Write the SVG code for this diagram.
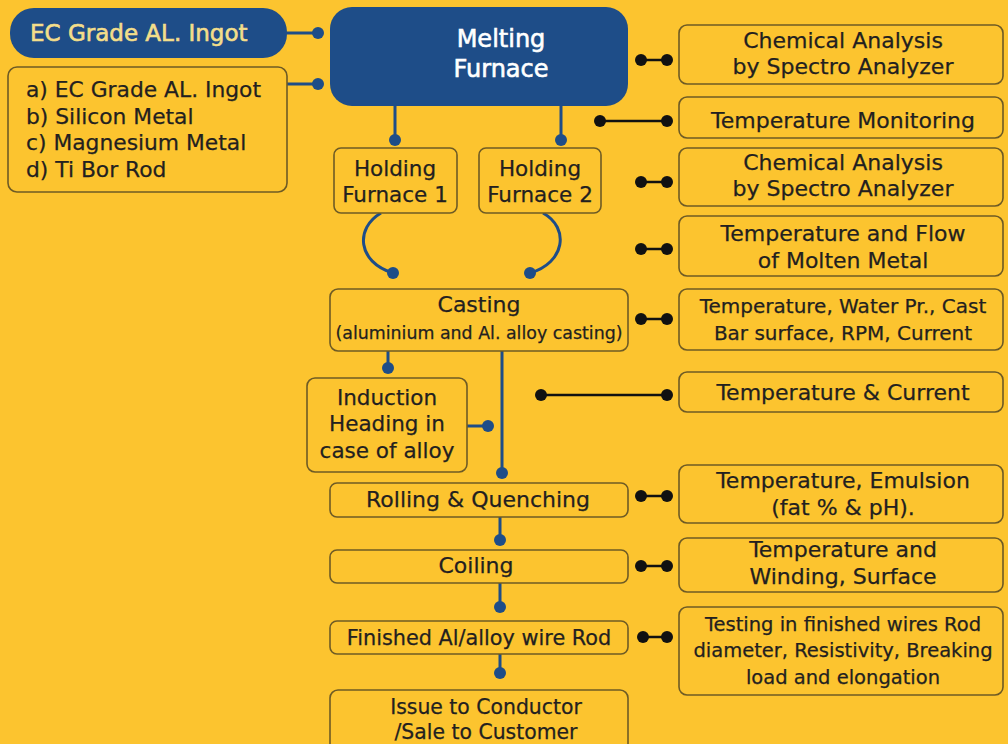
<svg xmlns="http://www.w3.org/2000/svg" width="1008" height="744" viewBox="0 0 1008 744">
<defs>
<style>
.bg{fill:#FCC42F}
.box{fill:#FCC42F;stroke:#6E5B25;stroke-width:1.6}
.blue{fill:#1E4D88}
.t{font-family:"DejaVu Sans",Lato,sans-serif;font-size:22px;fill:#231F20;stroke:#231F20;stroke-width:0.25;text-anchor:middle}
.tl{font-family:"DejaVu Sans",Lato,sans-serif;font-size:21.8px;fill:#231F20;stroke:#231F20;stroke-width:0.25}
.tw{font-family:"DejaVu Sans",Lato,sans-serif;font-size:24px;fill:#FFFFFF;stroke:#FFFFFF;stroke-width:0.6;text-anchor:middle}
.ty{font-family:"DejaVu Sans",Lato,sans-serif;font-size:23px;fill:#F3DE8A;stroke:#F3DE8A;stroke-width:0.6}
.bl{stroke:#1E4D88;stroke-width:3;fill:none}
.bd{fill:#1E4D88}
.kl{stroke:#111;stroke-width:2.5;fill:none}
.kd{fill:#111}
</style>
</defs>
<rect class="bg" x="0" y="0" width="1008" height="744"/>

<g id="connectors">
<line class="bl" x1="287" y1="33" x2="318" y2="33"/><circle class="bd" cx="318" cy="33" r="6"/>
<line class="bl" x1="287" y1="84" x2="318" y2="84"/><circle class="bd" cx="318" cy="84" r="6"/>
<line class="bl" x1="395" y1="106" x2="395" y2="140"/><circle class="bd" cx="395" cy="140" r="6"/>
<line class="bl" x1="561" y1="106" x2="561" y2="140"/><circle class="bd" cx="561" cy="140" r="6"/>
<path class="bl" d="M381 213 C355 228 357 262 393 273"/><circle class="bd" cx="393" cy="273" r="6"/>
<path class="bl" d="M543 213 C570 228 565 263 530 273"/><circle class="bd" cx="530" cy="273" r="6"/>
<line class="bl" x1="388" y1="351" x2="388" y2="368"/><circle class="bd" cx="388" cy="368" r="6"/>
<line class="bl" x1="467" y1="426" x2="488" y2="426"/><circle class="bd" cx="488" cy="426" r="6"/>
<line class="bl" x1="502" y1="351" x2="502" y2="473"/><circle class="bd" cx="502" cy="473" r="6"/>
<line class="bl" x1="500" y1="517" x2="500" y2="540"/><circle class="bd" cx="500" cy="540" r="6"/>
<line class="bl" x1="500" y1="583" x2="500" y2="607"/><circle class="bd" cx="500" cy="607" r="6"/>
<line class="bl" x1="500" y1="654" x2="500" y2="673"/><circle class="bd" cx="500" cy="673" r="6"/>

<line class="kl" x1="641" y1="60" x2="667" y2="60"/><circle class="kd" cx="641" cy="60" r="6"/><circle class="kd" cx="667" cy="60" r="6"/>
<line class="kl" x1="600" y1="121" x2="667" y2="121"/><circle class="kd" cx="600" cy="121" r="6"/><circle class="kd" cx="667" cy="121" r="6"/>
<line class="kl" x1="641" y1="182" x2="667" y2="182"/><circle class="kd" cx="641" cy="182" r="6"/><circle class="kd" cx="667" cy="182" r="6"/>
<line class="kl" x1="641" y1="249" x2="667" y2="249"/><circle class="kd" cx="641" cy="249" r="6"/><circle class="kd" cx="667" cy="249" r="6"/>
<line class="kl" x1="641" y1="319" x2="667" y2="319"/><circle class="kd" cx="641" cy="319" r="6"/><circle class="kd" cx="667" cy="319" r="6"/>
<line class="kl" x1="541" y1="395" x2="667" y2="395"/><circle class="kd" cx="541" cy="395" r="6"/><circle class="kd" cx="667" cy="395" r="6"/>
<line class="kl" x1="641" y1="496" x2="667" y2="496"/><circle class="kd" cx="641" cy="496" r="6"/><circle class="kd" cx="667" cy="496" r="6"/>
<line class="kl" x1="641" y1="566" x2="667" y2="566"/><circle class="kd" cx="641" cy="566" r="6"/><circle class="kd" cx="667" cy="566" r="6"/>
<line class="kl" x1="643" y1="637" x2="667" y2="637"/><circle class="kd" cx="643" cy="637" r="6"/><circle class="kd" cx="667" cy="637" r="6"/>
</g>

<g id="ingot">
<rect class="blue" x="10" y="8" width="277" height="50" rx="24"/>
<text class="ty" x="30" y="41">EC Grade AL. Ingot</text>
</g>
<g id="materials">
<rect class="box" x="8" y="67" width="279" height="125" rx="9"/>
<text class="tl" x="26" y="97">a) EC Grade AL. Ingot</text>
<text class="tl" x="26" y="124">b) Silicon Metal</text>
<text class="tl" x="26" y="150">c) Magnesium Metal</text>
<text class="tl" x="26" y="177">d) Ti Bor Rod</text>
</g>
<g id="melting">
<rect class="blue" x="330" y="7" width="298" height="99" rx="22"/>
<text class="tw" x="501" y="47">Melting</text>
<text class="tw" x="501" y="77">Furnace</text>
</g>
<g id="hf1">
<rect class="box" x="334" y="148" width="123" height="65" rx="7"/>
<text class="t" x="395" y="176" style="font-size:21.5px">Holding</text>
<text class="t" x="395" y="202" style="font-size:21.5px">Furnace 1</text>
</g>
<g id="hf2">
<rect class="box" x="479" y="148" width="122" height="65" rx="7"/>
<text class="t" x="540" y="176" style="font-size:21.5px">Holding</text>
<text class="t" x="540" y="202" style="font-size:21.5px">Furnace 2</text>
</g>
<g id="casting">
<rect class="box" x="330" y="289" width="298" height="62" rx="8"/>
<text class="t" x="479" y="312">Casting</text>
<text class="t" x="479" y="339" style="font-size:17.4px">(aluminium and Al. alloy casting)</text>
</g>
<g id="induction">
<rect class="box" x="307" y="378" width="160" height="94" rx="8"/>
<text class="t" x="387" y="405" style="font-size:21.5px">Induction</text>
<text class="t" x="387" y="431" style="font-size:21.5px">Heading in</text>
<text class="t" x="387" y="458" style="font-size:21.5px">case of alloy</text>
</g>
<g id="rolling">
<rect class="box" x="330" y="483" width="298" height="34" rx="7"/>
<text class="t" x="478" y="507">Rolling &amp; Quenching</text>
</g>
<g id="coiling">
<rect class="box" x="330" y="550" width="298" height="33" rx="7"/>
<text class="t" x="476" y="573">Coiling</text>
</g>
<g id="finished">
<rect class="box" x="330" y="621" width="298" height="33" rx="7"/>
<text class="t" x="479" y="645" style="font-size:20.8px">Finished Al/alloy wire Rod</text>
</g>
<g id="issue">
<rect class="box" x="330" y="690" width="298" height="70" rx="8"/>
<text class="t" x="486" y="714" style="font-size:20.4px">Issue to Conductor</text>
<text class="t" x="486" y="739" style="font-size:20.4px">/Sale to Customer</text>
</g>

<g id="chem1">
<rect class="box" x="679" y="25" width="324" height="59" rx="8"/>
<text class="t" x="843" y="48">Chemical Analysis</text>
<text class="t" x="843" y="74">by Spectro Analyzer</text>
</g>
<g id="tempmon">
<rect class="box" x="679" y="97" width="324" height="41" rx="8"/>
<text class="t" x="843" y="128">Temperature Monitoring</text>
</g>
<g id="chem2">
<rect class="box" x="679" y="148" width="324" height="58" rx="8"/>
<text class="t" x="843" y="170">Chemical Analysis</text>
<text class="t" x="843" y="196">by Spectro Analyzer</text>
</g>
<g id="flow">
<rect class="box" x="679" y="216" width="324" height="60" rx="8"/>
<text class="t" x="843" y="241">Temperature and Flow</text>
<text class="t" x="843" y="268">of Molten Metal</text>
</g>
<g id="water">
<rect class="box" x="679" y="289" width="324" height="61" rx="8"/>
<text class="t" x="843" y="313" style="font-size:20px">Temperature, Water Pr., Cast</text>
<text class="t" x="843" y="340" style="font-size:20px">Bar surface, RPM, Current</text>
</g>
<g id="current">
<rect class="box" x="679" y="372" width="324" height="40" rx="8"/>
<text class="t" x="843" y="400">Temperature &amp; Current</text>
</g>
<g id="emulsion">
<rect class="box" x="679" y="465" width="324" height="58" rx="8"/>
<text class="t" x="843" y="488">Temperature, Emulsion</text>
<text class="t" x="843" y="515">(fat % &amp; pH).</text>
</g>
<g id="winding">
<rect class="box" x="679" y="538" width="324" height="54" rx="8"/>
<text class="t" x="843" y="557">Temperature and</text>
<text class="t" x="843" y="584">Winding, Surface</text>
</g>
<g id="testing">
<rect class="box" x="679" y="607" width="324" height="88" rx="8"/>
<text class="t" x="843" y="631" style="font-size:19.5px">Testing in finished wires Rod</text>
<text class="t" x="843" y="657" style="font-size:19.5px">diameter, Resistivity, Breaking</text>
<text class="t" x="843" y="684" style="font-size:19.5px">load and elongation</text>
</g>
</svg>
